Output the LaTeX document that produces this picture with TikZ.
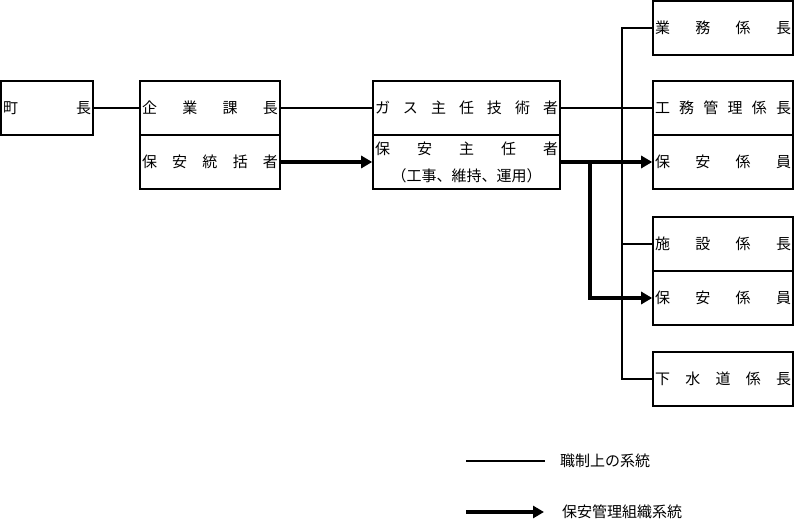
\documentclass[tikz,border=0pt]{standalone}
\usepackage{fontspec}
\setmainfont{Noto Sans CJK JP}
\usetikzlibrary{arrows.meta}
\newcommand\spr[2]{\makebox[#1]{#2}}
\begin{document}
\begin{tikzpicture}[x=1pt,y=-1pt,
  box/.style={draw,line width=1.6pt,inner sep=0pt,minimum height=54pt,font=\fontsize{15}{18}\selectfont},
  txt/.style={inner sep=0pt,font=\fontsize{15}{18}\selectfont},
  conn/.style={line width=1.4pt},
  flow/.style={line width=4pt,-{Triangle[length=11pt,width=12pt]}},
  flowline/.style={line width=4pt}]
\useasboundingbox (0,0) rectangle (794,521);
% left
\node[box,minimum width=92pt] (chocho) at (47,108) {\spr{88pt}{町\hfill 長}};
\node[box,minimum width=140pt] (kigyo) at (210,108) {\spr{136pt}{企\hfill 業\hfill 課\hfill 長}};
\node[box,minimum width=140pt] (tokatsu) at (210,162) {\spr{136pt}{保\hfill 安\hfill 統\hfill 括\hfill 者}};
% middle
\node[box,minimum width=187pt] (gas) at (466.5,108) {\spr{183pt}{ガ\hfill ス\hfill 主\hfill 任\hfill 技\hfill 術\hfill 者}};
\node[box,minimum width=187pt] (shunin) at (466.5,162) {};
\node[txt] (shunin1) at (466.5,149) {\spr{183pt}{保\hfill 安\hfill 主\hfill 任\hfill 者}};
\node[txt] (shunin2) at (466.5,176) {（工事、維持、運用）};
% right
\node[box,minimum width=140pt] (gyomu) at (723,28) {\spr{136pt}{業\hfill 務\hfill 係\hfill 長}};
\node[box,minimum width=140pt] (komu) at (723,108) {\spr{136pt}{工\hfill 務\hfill 管\hfill 理\hfill 係\hfill 長}};
\node[box,minimum width=140pt] (hoan1) at (723,162) {\spr{136pt}{保\hfill 安\hfill 係\hfill 員}};
\node[box,minimum width=140pt] (shisetsu) at (723,244) {\spr{136pt}{施\hfill 設\hfill 係\hfill 長}};
\node[box,minimum width=140pt] (hoan2) at (723,298) {\spr{136pt}{保\hfill 安\hfill 係\hfill 員}};
\node[box,minimum width=140pt] (gesui) at (723,379) {\spr{136pt}{下\hfill 水\hfill 道\hfill 係\hfill 長}};
% thin connectors
\coordinate (trunk) at (622,0);
\draw[conn] (chocho.east) -- (kigyo.west);
\draw[conn] (kigyo.east) -- (gas.west);
\draw[conn] (gas.east) -- (komu.west);
\draw[conn] (gyomu.west) -- (gyomu.west -| trunk) -- (gesui.west -| trunk) -- (gesui.west);
\draw[conn] (shisetsu.west -| trunk) -- (shisetsu.west);
% thick connectors
\coordinate (branch) at (590,162);
\draw[flow] (tokatsu.east) -- (shunin.west);
\draw[flow] (shunin.east) -- (hoan1.west);
\draw[flow] (branch) |- (hoan2.west);
% legend
\coordinate (l1a) at (466,461);
\coordinate (l1b) at (545,461);
\coordinate (l2a) at (466,512);
\coordinate (l2b) at (544,512);
\draw[conn] (l1a) -- (l1b);
\node[txt,anchor=west] (leg1) at (560,461) {職制上の系統};
\draw[flow] (l2a) -- (l2b);
\node[txt,anchor=west] (leg2) at (562,512) {保安管理組織系統};
\end{tikzpicture}
\end{document}
